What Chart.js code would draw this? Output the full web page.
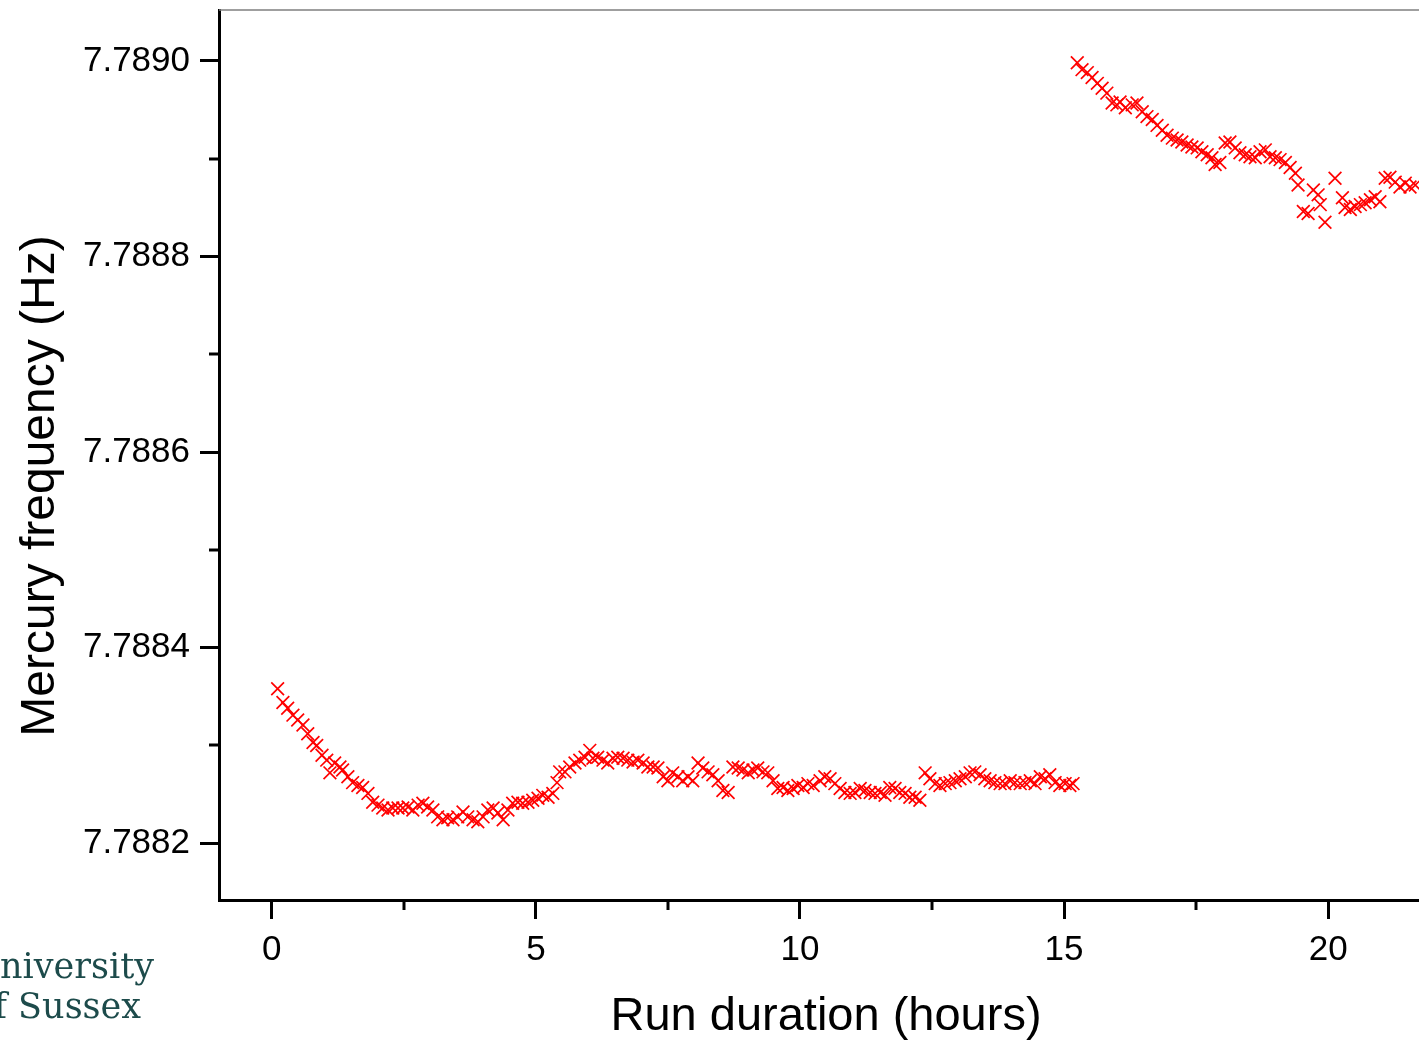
<!DOCTYPE html>
<html>
<head>
<meta charset="utf-8">
<title>Mercury frequency drift</title>
<script src="https://cdn.jsdelivr.net/npm/chart.js@4.4.1/dist/chart.umd.min.js"></script>
<style>
  html, body { margin: 0; padding: 0; background: #fff; overflow: hidden; }
  #wrap { width: 1419px; height: 1043px; }
  canvas { display: block; }
</style>
</head>
<body>
<div id="wrap"><canvas id="freqChart" width="1419" height="1043"></canvas></div>
<script>
// First run: hours since start, mercury frequency in Hz
const runAHours = [
    0.11, 0.21, 0.30, 0.40, 0.49, 0.59, 0.68, 0.78, 0.85, 0.95,
    1.04, 1.10, 1.19, 1.29, 1.34, 1.44, 1.53, 1.63, 1.72, 1.82,
    1.91, 2.01, 2.10, 2.20, 2.29, 2.39, 2.48, 2.58, 2.67, 2.77,
    2.86, 2.95, 3.05, 3.14, 3.24, 3.33, 3.43, 3.52, 3.62, 3.71,
    3.81, 3.90, 4.00, 4.09, 4.19, 4.28, 4.38, 4.47, 4.56, 4.66,
    4.75, 4.85, 4.94, 5.04, 5.13, 5.23, 5.32, 5.40, 5.45, 5.55,
    5.64, 5.74, 5.83, 5.93, 6.02, 6.08, 6.17, 6.27, 6.36, 6.46,
    6.55, 6.65, 6.74, 6.84, 6.93, 7.03, 7.12, 7.22, 7.31, 7.41,
    7.50, 7.59, 7.69, 7.78, 7.88, 7.97, 8.07, 8.16, 8.26, 8.35,
    8.45, 8.54, 8.64, 8.73, 8.83, 8.92, 9.02, 9.11, 9.20, 9.30,
    9.39, 9.49, 9.58, 9.68, 9.77, 9.87, 9.96, 10.06, 10.15, 10.25,
    10.38, 10.47, 10.57, 10.66, 10.76, 10.85, 10.95, 11.04, 11.14, 11.23,
    11.33, 11.42, 11.52, 11.61, 11.70, 11.80, 11.89, 11.99, 12.08, 12.18,
    12.27, 12.37, 12.46, 12.56, 12.65, 12.75, 12.84, 12.94, 13.03, 13.13,
    13.22, 13.31, 13.41, 13.50, 13.60, 13.69, 13.79, 13.88, 13.98, 14.07,
    14.17, 14.26, 14.36, 14.45, 14.55, 14.64, 14.73, 14.83, 14.92, 15.02,
    15.11, 15.17
];
const runAFreq = [
    7.788358, 7.788344, 7.788338, 7.788331, 7.788326, 7.788321, 7.788312, 7.788303, 7.788300, 7.788290,
    7.788285, 7.788272, 7.788282, 7.788278, 7.788275, 7.788268, 7.788262, 7.788259, 7.788257, 7.788251,
    7.788242, 7.788239, 7.788236, 7.788234, 7.788236, 7.788236, 7.788236, 7.788237, 7.788234, 7.788239,
    7.788241, 7.788237, 7.788234, 7.788227, 7.788224, 7.788226, 7.788224, 7.788227, 7.788232, 7.788227,
    7.788224, 7.788222, 7.788227, 7.788234, 7.788236, 7.788231, 7.788224, 7.788234, 7.788241, 7.788242,
    7.788241, 7.788242, 7.788244, 7.788246, 7.788249, 7.788247, 7.788251, 7.788262, 7.788273, 7.788273,
    7.788278, 7.788282, 7.788285, 7.788288, 7.788295, 7.788287, 7.788288, 7.788285, 7.788282, 7.788287,
    7.788288, 7.788287, 7.788285, 7.788283, 7.788285, 7.788282, 7.788278, 7.788278, 7.788277, 7.788268,
    7.788264, 7.788272, 7.788268, 7.788264, 7.788268, 7.788264, 7.788282, 7.788277, 7.788273, 7.788270,
    7.788264, 7.788254, 7.788252, 7.788278, 7.788277, 7.788275, 7.788272, 7.788275, 7.788277, 7.788273,
    7.788272, 7.788264, 7.788256, 7.788257, 7.788254, 7.788256, 7.788259, 7.788257, 7.788261, 7.788259,
    7.788264, 7.788268, 7.788266, 7.788261, 7.788256, 7.788252, 7.788251, 7.788252, 7.788256, 7.788254,
    7.788252, 7.788251, 7.788252, 7.788249, 7.788257, 7.788256, 7.788252, 7.788251, 7.788247, 7.788247,
    7.788244, 7.788272, 7.788266, 7.788261, 7.788259, 7.788261, 7.788262, 7.788264, 7.788266, 7.788268,
    7.788272, 7.788273, 7.788270, 7.788266, 7.788264, 7.788262, 7.788261, 7.788261, 7.788264, 7.788262,
    7.788261, 7.788262, 7.788264, 7.788261, 7.788268, 7.788266, 7.788270, 7.788262, 7.788259, 7.788261,
    7.788259, 7.788261
];

// Second run, after the jump
const runBHours = [
    15.25, 15.34, 15.44, 15.53, 15.63, 15.72, 15.81, 15.91, 16.00, 16.06,
    16.16, 16.29, 16.38, 16.48, 16.57, 16.67, 16.76, 16.86, 16.95, 17.05,
    17.14, 17.23, 17.33, 17.42, 17.52, 17.61, 17.71, 17.80, 17.86, 17.95,
    18.05, 18.14, 18.24, 18.33, 18.43, 18.52, 18.62, 18.71, 18.81, 18.90,
    19.00, 19.09, 19.19, 19.28, 19.38, 19.43, 19.53, 19.62, 19.72, 19.81,
    19.85, 19.94, 20.13, 20.27, 20.32, 20.42, 20.51, 20.61, 20.70, 20.80,
    20.89, 20.98, 21.08, 21.17, 21.27, 21.36, 21.46, 21.55, 21.65
];
const runBFreq = [
    7.788998, 7.788991, 7.788988, 7.788983, 7.788977, 7.788972, 7.788967, 7.788957, 7.788955, 7.788958,
    7.788952, 7.788955, 7.788957, 7.788948, 7.788943, 7.788940, 7.788934, 7.788929, 7.788924, 7.788921,
    7.788919, 7.788917, 7.788914, 7.788912, 7.788911, 7.788907, 7.788904, 7.788901, 7.788894, 7.788896,
    7.788916, 7.788917, 7.788911, 7.788906, 7.788904, 7.788902, 7.788901, 7.788907, 7.788909, 7.788902,
    7.788901, 7.788899, 7.788896, 7.788891, 7.788885, 7.788873, 7.788846, 7.788844, 7.788868, 7.788863,
    7.788853, 7.788835, 7.788880, 7.788860, 7.788850, 7.788848, 7.788851, 7.788853, 7.788855, 7.788858,
    7.788861, 7.788856, 7.788880, 7.788881, 7.788876, 7.788871, 7.788875, 7.788871, 7.788873
];

const xMajor = [0, 5, 10, 15, 20];
const xMinor = [2.5, 7.5, 12.5, 17.5];
const yMajor = [7.7882, 7.7884, 7.7886, 7.7888, 7.7890];
const yMinor = [7.7883, 7.7885, 7.7887, 7.7889];

const FONT = '"Liberation Sans", Arial, sans-serif';

function toPoints(xs, ys) {
    return xs.map((h, i) => ({ x: h, y: ys[i] }));
}

// the plot runs off the right edge, so no label overhang padding
function fixSize(prop, size) {
    return s => {
        s[prop] = size;
        s.paddingTop = 0;
        s.paddingBottom = 0;
        s.paddingLeft = 0;
        s.paddingRight = 0;
    };
}

// minor ticks, the thin top frame line, axis titles and the logo text
const decorations = {
    id: 'decorations',
    afterDraw(chart) {
        const { ctx, chartArea } = chart;
        const xs = chart.scales.x;
        const ys = chart.scales.y;
        ctx.save();

        ctx.strokeStyle = '#000';
        ctx.lineWidth = 3;
        xMinor.forEach(v => {
            const px = Math.round(xs.getPixelForValue(v));
            ctx.beginPath();
            ctx.moveTo(px, chartArea.bottom);
            ctx.lineTo(px, chartArea.bottom + 10);
            ctx.stroke();
        });
        yMinor.forEach(v => {
            const py = Math.round(ys.getPixelForValue(v));
            ctx.beginPath();
            ctx.moveTo(chartArea.left, py);
            ctx.lineTo(chartArea.left - 10, py);
            ctx.stroke();
        });

        ctx.strokeStyle = '#7f7f7f';
        ctx.lineWidth = 1.5;
        ctx.beginPath();
        ctx.moveTo(chartArea.left, chartArea.top);
        ctx.lineTo(chartArea.right, chartArea.top);
        ctx.stroke();

        ctx.fillStyle = '#000';
        ctx.textAlign = 'center';
        ctx.textBaseline = 'middle';
        ctx.font = '47px ' + FONT;
        ctx.fillText('Run duration (hours)', 826, 1017);

        ctx.save();
        ctx.translate(41, 486);
        ctx.rotate(-Math.PI / 2);
        ctx.font = '48px ' + FONT;
        ctx.fillText('Mercury frequency (Hz)', 0, 0);
        ctx.restore();

        ctx.fillStyle = '#1d4b4b';
        ctx.textAlign = 'right';
        ctx.textBaseline = 'alphabetic';
        ctx.font = '35px "DejaVu Serif", serif';
        ctx.fillText('University', 154, 978);
        ctx.fillText('of Sussex', 141, 1018);

        ctx.restore();
    }
};

const ctx = document.getElementById('freqChart').getContext('2d');

const freqChart = new Chart(ctx, {
    type: 'scatter',
    data: {
        datasets: [
            {
                label: 'Run 1',
                data: toPoints(runAHours, runAFreq),
                pointStyle: 'crossRot',
                pointRadius: 9,
                pointBorderWidth: 1.7,
                borderColor: '#ff0000',
                backgroundColor: '#ff0000'
            },
            {
                label: 'Run 2',
                data: toPoints(runBHours, runBFreq),
                pointStyle: 'crossRot',
                pointRadius: 9,
                pointBorderWidth: 1.7,
                borderColor: '#ff0000',
                backgroundColor: '#ff0000'
            }
        ]
    },
    options: {
        responsive: false,
        animation: false,
        layout: { autoPadding: false, padding: { top: 10, right: 0, bottom: 0, left: 0 } },
        plugins: {
            legend: { display: false },
            tooltip: { enabled: false }
        },
        scales: {
            x: {
                type: 'linear',
                position: 'bottom',
                min: -1.0,
                max: 21.72,
                afterFit: fixSize('height', 143),
                afterBuildTicks: s => { s.ticks = xMajor.map(v => ({ value: v })); },
                border: { display: true, color: '#000', width: 3 },
                grid: { drawOnChartArea: false, drawTicks: true, tickLength: 19, tickWidth: 3, tickColor: '#000' },
                ticks: { color: '#000', padding: 10, font: { size: 35, family: FONT } }
            },
            y: {
                type: 'linear',
                position: 'left',
                min: 7.788142,
                max: 7.789052,
                afterFit: fixSize('width', 219),
                afterBuildTicks: s => { s.ticks = yMajor.map(v => ({ value: v })); },
                border: { display: true, color: '#000', width: 3 },
                grid: { drawOnChartArea: false, drawTicks: true, tickLength: 19, tickWidth: 3, tickColor: '#000' },
                ticks: {
                    color: '#000',
                    padding: 10,
                    font: { size: 35, family: FONT },
                    callback: v => v.toFixed(4)
                }
            }
        }
    },
    plugins: [decorations]
});
</script>
</body>
</html>
